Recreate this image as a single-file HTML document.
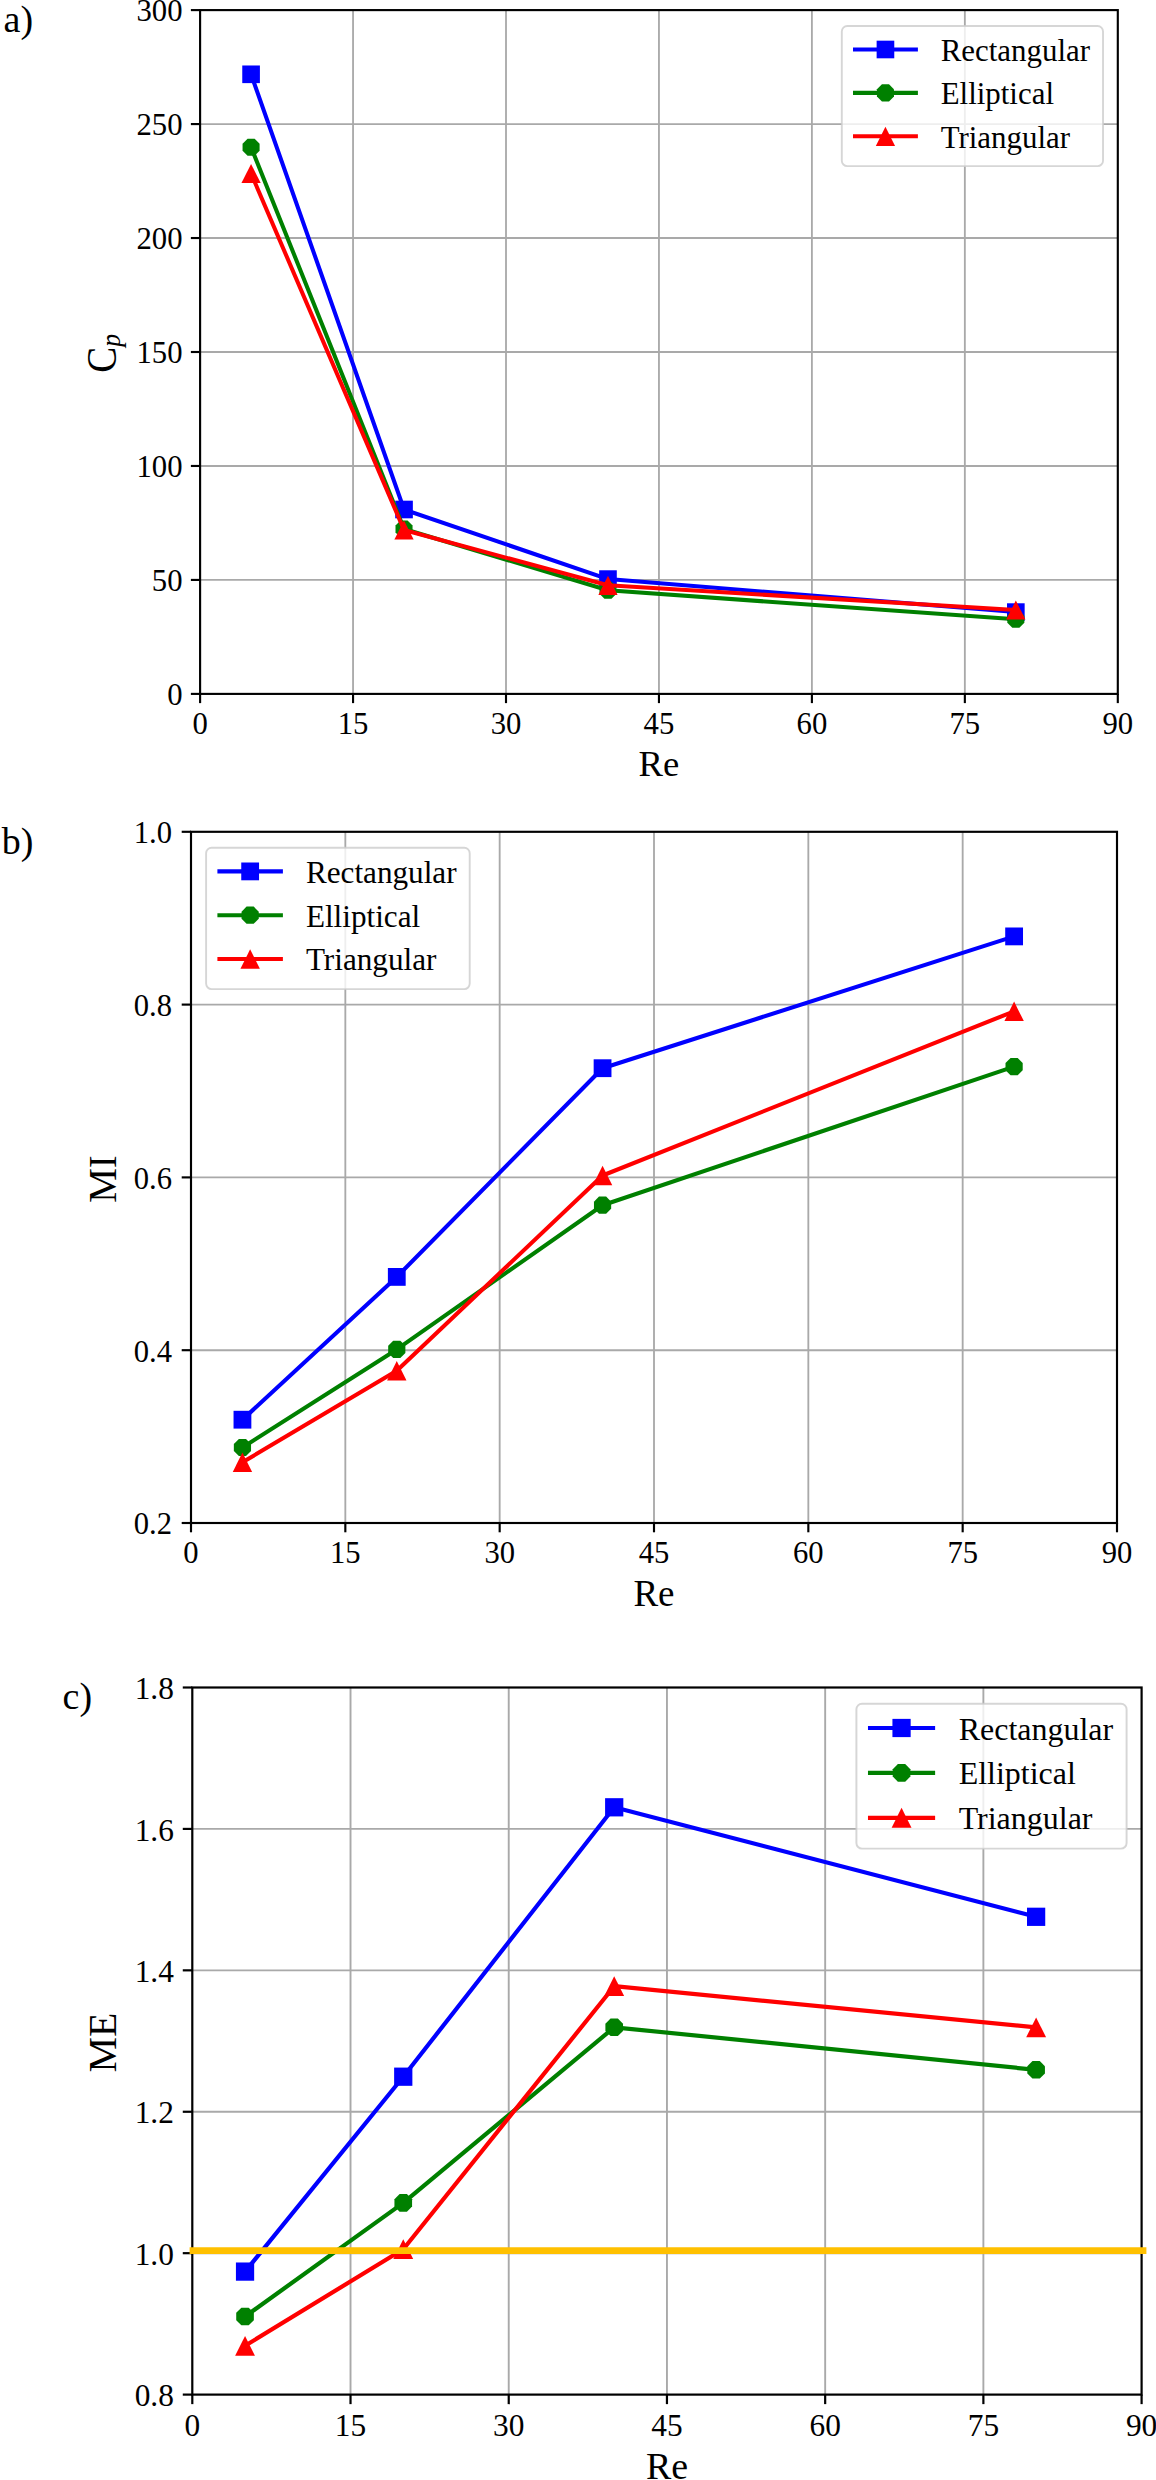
<!DOCTYPE html>
<html lang="en"><head><meta charset="utf-8"><title>Cp, MI and ME versus Re</title>
<style>html,body{margin:0;padding:0;background:#fff}body{width:1156px;height:2480px;overflow:hidden}svg{display:block}</style>
</head><body>
<svg width="1156" height="2480" viewBox="0 0 1156 2480">
<rect width="1156" height="2480" fill="#fff"/>
<g font-family="'Liberation Serif', 'Times New Roman', serif" fill="#000">
<line x1="353.05" y1="10.1" x2="353.05" y2="693.9" stroke="#a9a9a9" stroke-width="1.83"/>
<line x1="506" y1="10.1" x2="506" y2="693.9" stroke="#a9a9a9" stroke-width="1.83"/>
<line x1="658.95" y1="10.1" x2="658.95" y2="693.9" stroke="#a9a9a9" stroke-width="1.83"/>
<line x1="811.9" y1="10.1" x2="811.9" y2="693.9" stroke="#a9a9a9" stroke-width="1.83"/>
<line x1="964.85" y1="10.1" x2="964.85" y2="693.9" stroke="#a9a9a9" stroke-width="1.83"/>
<line x1="200.1" y1="579.93" x2="1117.8" y2="579.93" stroke="#a9a9a9" stroke-width="1.83"/>
<line x1="200.1" y1="465.97" x2="1117.8" y2="465.97" stroke="#a9a9a9" stroke-width="1.83"/>
<line x1="200.1" y1="352" x2="1117.8" y2="352" stroke="#a9a9a9" stroke-width="1.83"/>
<line x1="200.1" y1="238.03" x2="1117.8" y2="238.03" stroke="#a9a9a9" stroke-width="1.83"/>
<line x1="200.1" y1="124.07" x2="1117.8" y2="124.07" stroke="#a9a9a9" stroke-width="1.83"/>
<polyline points="251.08,74.3 404.03,509.5 607.97,579.1 1015.83,612.1" fill="none" stroke="#0000ff" stroke-width="4.06" stroke-linejoin="round"/>
<rect x="242.26" y="65.48" width="17.64" height="17.64" fill="#0000ff"/>
<rect x="395.21" y="500.68" width="17.64" height="17.64" fill="#0000ff"/>
<rect x="599.15" y="570.28" width="17.64" height="17.64" fill="#0000ff"/>
<rect x="1007.01" y="603.28" width="17.64" height="17.64" fill="#0000ff"/>
<polyline points="251.08,147.2 404.03,529 607.97,590.3 1015.83,619.3" fill="none" stroke="#008000" stroke-width="4.06" stroke-linejoin="round"/>
<polygon points="259.6,150.73 254.61,155.72 247.55,155.72 242.56,150.73 242.56,143.67 247.55,138.68 254.61,138.68 259.6,143.67" fill="#008000"/>
<polygon points="412.55,532.53 407.56,537.52 400.5,537.52 395.51,532.53 395.51,525.47 400.5,520.48 407.56,520.48 412.55,525.47" fill="#008000"/>
<polygon points="616.49,593.83 611.5,598.82 604.44,598.82 599.45,593.83 599.45,586.77 604.44,581.78 611.5,581.78 616.49,586.77" fill="#008000"/>
<polygon points="1024.35,622.83 1019.36,627.82 1012.3,627.82 1007.31,622.83 1007.31,615.77 1012.3,610.78 1019.36,610.78 1024.35,615.77" fill="#008000"/>
<polyline points="251.08,173.5 404.03,530 607.97,585.3 1015.83,610" fill="none" stroke="#ff0000" stroke-width="4.06" stroke-linejoin="round"/>
<polygon points="251.08,163.88 241.46,183.12 260.7,183.12" fill="#ff0000"/>
<polygon points="404.03,520.38 394.41,539.62 413.65,539.62" fill="#ff0000"/>
<polygon points="607.97,575.68 598.35,594.92 617.59,594.92" fill="#ff0000"/>
<polygon points="1015.83,600.38 1006.21,619.62 1025.45,619.62" fill="#ff0000"/>
<rect x="200.1" y="10.1" width="917.7" height="683.8" fill="none" stroke="#000" stroke-width="2.13"/>
<line x1="200.1" y1="693.9" x2="200.1" y2="703.12" stroke="#000" stroke-width="2.13"/>
<text transform="translate(200.1,733.84) scale(1,1.05)" font-size="30.72" text-anchor="middle">0</text>
<line x1="353.05" y1="693.9" x2="353.05" y2="703.12" stroke="#000" stroke-width="2.13"/>
<text transform="translate(353.05,733.84) scale(1,1.05)" font-size="30.72" text-anchor="middle">15</text>
<line x1="506" y1="693.9" x2="506" y2="703.12" stroke="#000" stroke-width="2.13"/>
<text transform="translate(506,733.84) scale(1,1.05)" font-size="30.72" text-anchor="middle">30</text>
<line x1="658.95" y1="693.9" x2="658.95" y2="703.12" stroke="#000" stroke-width="2.13"/>
<text transform="translate(658.95,733.84) scale(1,1.05)" font-size="30.72" text-anchor="middle">45</text>
<line x1="811.9" y1="693.9" x2="811.9" y2="703.12" stroke="#000" stroke-width="2.13"/>
<text transform="translate(811.9,733.84) scale(1,1.05)" font-size="30.72" text-anchor="middle">60</text>
<line x1="964.85" y1="693.9" x2="964.85" y2="703.12" stroke="#000" stroke-width="2.13"/>
<text transform="translate(964.85,733.84) scale(1,1.05)" font-size="30.72" text-anchor="middle">75</text>
<line x1="1117.8" y1="693.9" x2="1117.8" y2="703.12" stroke="#000" stroke-width="2.13"/>
<text transform="translate(1117.8,733.84) scale(1,1.05)" font-size="30.72" text-anchor="middle">90</text>
<line x1="190.88" y1="693.9" x2="200.1" y2="693.9" stroke="#000" stroke-width="2.13"/>
<text transform="translate(182.56,705.1) scale(1,1.05)" font-size="30.72" text-anchor="end">0</text>
<line x1="190.88" y1="579.93" x2="200.1" y2="579.93" stroke="#000" stroke-width="2.13"/>
<text transform="translate(182.56,591.13) scale(1,1.05)" font-size="30.72" text-anchor="end">50</text>
<line x1="190.88" y1="465.97" x2="200.1" y2="465.97" stroke="#000" stroke-width="2.13"/>
<text transform="translate(182.56,477.16) scale(1,1.05)" font-size="30.72" text-anchor="end">100</text>
<line x1="190.88" y1="352" x2="200.1" y2="352" stroke="#000" stroke-width="2.13"/>
<text transform="translate(182.56,363.2) scale(1,1.05)" font-size="30.72" text-anchor="end">150</text>
<line x1="190.88" y1="238.03" x2="200.1" y2="238.03" stroke="#000" stroke-width="2.13"/>
<text transform="translate(182.56,249.23) scale(1,1.05)" font-size="30.72" text-anchor="end">200</text>
<line x1="190.88" y1="124.07" x2="200.1" y2="124.07" stroke="#000" stroke-width="2.13"/>
<text transform="translate(182.56,135.26) scale(1,1.05)" font-size="30.72" text-anchor="end">250</text>
<line x1="190.88" y1="10.1" x2="200.1" y2="10.1" stroke="#000" stroke-width="2.13"/>
<text transform="translate(182.56,21.3) scale(1,1.05)" font-size="30.72" text-anchor="end">300</text>
<text x="658.95" y="775.76" font-size="36.67" text-anchor="middle">Re</text>
<text transform="translate(115.7,353.3) rotate(-90) scale(1,1.07)" font-size="38.95" text-anchor="middle">C<tspan font-style="italic" font-size="66%" dy="4.0">p</tspan></text>
<rect x="841.8" y="26" width="261.23" height="140.13" rx="5.45" ry="5.45" fill="#fff" fill-opacity="0.8" stroke="#cccccc" stroke-opacity="0.8" stroke-width="1.88"/>
<line x1="853" y1="49.49" x2="917.91" y2="49.49" stroke="#0000ff" stroke-width="4.06"/>
<rect x="876.63" y="40.67" width="17.64" height="17.64" fill="#0000ff"/>
<text x="940.7" y="60.69" font-size="30.92">Rectangular</text>
<line x1="853" y1="92.89" x2="917.91" y2="92.89" stroke="#008000" stroke-width="4.06"/>
<polygon points="893.97,96.42 888.98,101.41 881.92,101.41 876.93,96.42 876.93,89.36 881.92,84.37 888.98,84.37 893.97,89.36" fill="#008000"/>
<text x="940.7" y="104.09" font-size="30.92">Elliptical</text>
<line x1="853" y1="136.3" x2="917.91" y2="136.3" stroke="#ff0000" stroke-width="4.06"/>
<polygon points="885.45,126.68 875.83,145.92 895.07,145.92" fill="#ff0000"/>
<text x="940.7" y="147.5" font-size="30.92">Triangular</text>
</g>
<g font-family="'Liberation Serif', 'Times New Roman', serif" fill="#000">
<line x1="345.33" y1="831.8" x2="345.33" y2="1523" stroke="#a9a9a9" stroke-width="1.85"/>
<line x1="499.67" y1="831.8" x2="499.67" y2="1523" stroke="#a9a9a9" stroke-width="1.85"/>
<line x1="654" y1="831.8" x2="654" y2="1523" stroke="#a9a9a9" stroke-width="1.85"/>
<line x1="808.33" y1="831.8" x2="808.33" y2="1523" stroke="#a9a9a9" stroke-width="1.85"/>
<line x1="962.67" y1="831.8" x2="962.67" y2="1523" stroke="#a9a9a9" stroke-width="1.85"/>
<line x1="191" y1="1350.2" x2="1117" y2="1350.2" stroke="#a9a9a9" stroke-width="1.85"/>
<line x1="191" y1="1177.4" x2="1117" y2="1177.4" stroke="#a9a9a9" stroke-width="1.85"/>
<line x1="191" y1="1004.6" x2="1117" y2="1004.6" stroke="#a9a9a9" stroke-width="1.85"/>
<polyline points="242.44,1419.7 396.78,1276.9 602.56,1068.2 1014.11,936.4" fill="none" stroke="#0000ff" stroke-width="4.1" stroke-linejoin="round"/>
<rect x="233.54" y="1410.8" width="17.8" height="17.8" fill="#0000ff"/>
<rect x="387.88" y="1268" width="17.8" height="17.8" fill="#0000ff"/>
<rect x="593.66" y="1059.3" width="17.8" height="17.8" fill="#0000ff"/>
<rect x="1005.21" y="927.5" width="17.8" height="17.8" fill="#0000ff"/>
<polyline points="242.44,1447.5 396.78,1349.4 602.56,1205.2 1014.11,1066.6" fill="none" stroke="#008000" stroke-width="4.1" stroke-linejoin="round"/>
<polygon points="251.04,1451.06 246.01,1456.1 238.88,1456.1 233.84,1451.06 233.84,1443.94 238.88,1438.9 246.01,1438.9 251.04,1443.94" fill="#008000"/>
<polygon points="405.38,1352.96 400.34,1358 393.22,1358 388.18,1352.96 388.18,1345.84 393.22,1340.8 400.34,1340.8 405.38,1345.84" fill="#008000"/>
<polygon points="611.16,1208.76 606.12,1213.8 598.99,1213.8 593.96,1208.76 593.96,1201.64 598.99,1196.6 606.12,1196.6 611.16,1201.64" fill="#008000"/>
<polygon points="1022.71,1070.16 1017.67,1075.2 1010.55,1075.2 1005.51,1070.16 1005.51,1063.04 1010.55,1058 1017.67,1058 1022.71,1063.04" fill="#008000"/>
<polyline points="242.44,1462.3 396.78,1370.8 602.56,1175.5 1014.11,1011.3" fill="none" stroke="#ff0000" stroke-width="4.1" stroke-linejoin="round"/>
<polygon points="242.44,1452.6 232.74,1472 252.14,1472" fill="#ff0000"/>
<polygon points="396.78,1361.1 387.08,1380.5 406.48,1380.5" fill="#ff0000"/>
<polygon points="602.56,1165.8 592.86,1185.2 612.26,1185.2" fill="#ff0000"/>
<polygon points="1014.11,1001.6 1004.41,1021 1023.81,1021" fill="#ff0000"/>
<rect x="191" y="831.8" width="926" height="691.2" fill="none" stroke="#000" stroke-width="2.15"/>
<line x1="191" y1="1523" x2="191" y2="1532.3" stroke="#000" stroke-width="2.15"/>
<text transform="translate(191,1562.9) scale(1,1.03)" font-size="30.6" text-anchor="middle">0</text>
<line x1="345.33" y1="1523" x2="345.33" y2="1532.3" stroke="#000" stroke-width="2.15"/>
<text transform="translate(345.33,1562.9) scale(1,1.03)" font-size="30.6" text-anchor="middle">15</text>
<line x1="499.67" y1="1523" x2="499.67" y2="1532.3" stroke="#000" stroke-width="2.15"/>
<text transform="translate(499.67,1562.9) scale(1,1.03)" font-size="30.6" text-anchor="middle">30</text>
<line x1="654" y1="1523" x2="654" y2="1532.3" stroke="#000" stroke-width="2.15"/>
<text transform="translate(654,1562.9) scale(1,1.03)" font-size="30.6" text-anchor="middle">45</text>
<line x1="808.33" y1="1523" x2="808.33" y2="1532.3" stroke="#000" stroke-width="2.15"/>
<text transform="translate(808.33,1562.9) scale(1,1.03)" font-size="30.6" text-anchor="middle">60</text>
<line x1="962.67" y1="1523" x2="962.67" y2="1532.3" stroke="#000" stroke-width="2.15"/>
<text transform="translate(962.67,1562.9) scale(1,1.03)" font-size="30.6" text-anchor="middle">75</text>
<line x1="1117" y1="1523" x2="1117" y2="1532.3" stroke="#000" stroke-width="2.15"/>
<text transform="translate(1117,1562.9) scale(1,1.03)" font-size="30.6" text-anchor="middle">90</text>
<line x1="181.7" y1="1523" x2="191" y2="1523" stroke="#000" stroke-width="2.15"/>
<text transform="translate(172,1534.3) scale(1,1.03)" font-size="30.6" text-anchor="end">0.2</text>
<line x1="181.7" y1="1350.2" x2="191" y2="1350.2" stroke="#000" stroke-width="2.15"/>
<text transform="translate(172,1361.5) scale(1,1.03)" font-size="30.6" text-anchor="end">0.4</text>
<line x1="181.7" y1="1177.4" x2="191" y2="1177.4" stroke="#000" stroke-width="2.15"/>
<text transform="translate(172,1188.7) scale(1,1.03)" font-size="30.6" text-anchor="end">0.6</text>
<line x1="181.7" y1="1004.6" x2="191" y2="1004.6" stroke="#000" stroke-width="2.15"/>
<text transform="translate(172,1015.9) scale(1,1.03)" font-size="30.6" text-anchor="end">0.8</text>
<line x1="181.7" y1="831.8" x2="191" y2="831.8" stroke="#000" stroke-width="2.15"/>
<text transform="translate(172,843.1) scale(1,1.03)" font-size="30.6" text-anchor="end">1.0</text>
<text x="654" y="1605.6" font-size="37" text-anchor="middle">Re</text>
<text transform="translate(116.3,1179.1) rotate(-90) scale(1,1.03)" font-size="38.9" text-anchor="middle">MI</text>
<rect x="206.1" y="847.7" width="263.6" height="141.4" rx="5.5" ry="5.5" fill="#fff" fill-opacity="0.8" stroke="#cccccc" stroke-opacity="0.8" stroke-width="1.9"/>
<line x1="217.4" y1="871.4" x2="282.9" y2="871.4" stroke="#0000ff" stroke-width="4.1"/>
<rect x="241.25" y="862.5" width="17.8" height="17.8" fill="#0000ff"/>
<text x="305.9" y="882.7" font-size="31.2">Rectangular</text>
<line x1="217.4" y1="915.2" x2="282.9" y2="915.2" stroke="#008000" stroke-width="4.1"/>
<polygon points="258.75,918.76 253.71,923.8 246.59,923.8 241.55,918.76 241.55,911.64 246.59,906.6 253.71,906.6 258.75,911.64" fill="#008000"/>
<text x="305.9" y="926.5" font-size="31.2">Elliptical</text>
<line x1="217.4" y1="959" x2="282.9" y2="959" stroke="#ff0000" stroke-width="4.1"/>
<polygon points="250.15,949.3 240.45,968.7 259.85,968.7" fill="#ff0000"/>
<text x="305.9" y="970.3" font-size="31.2">Triangular</text>
</g>
<g font-family="'Liberation Serif', 'Times New Roman', serif" fill="#000">
<line x1="350.52" y1="1687.5" x2="350.52" y2="2394.6" stroke="#a9a9a9" stroke-width="1.9"/>
<line x1="508.73" y1="1687.5" x2="508.73" y2="2394.6" stroke="#a9a9a9" stroke-width="1.9"/>
<line x1="666.95" y1="1687.5" x2="666.95" y2="2394.6" stroke="#a9a9a9" stroke-width="1.9"/>
<line x1="825.17" y1="1687.5" x2="825.17" y2="2394.6" stroke="#a9a9a9" stroke-width="1.9"/>
<line x1="983.38" y1="1687.5" x2="983.38" y2="2394.6" stroke="#a9a9a9" stroke-width="1.9"/>
<line x1="192.3" y1="2253.18" x2="1141.6" y2="2253.18" stroke="#a9a9a9" stroke-width="1.9"/>
<line x1="192.3" y1="2111.76" x2="1141.6" y2="2111.76" stroke="#a9a9a9" stroke-width="1.9"/>
<line x1="192.3" y1="1970.34" x2="1141.6" y2="1970.34" stroke="#a9a9a9" stroke-width="1.9"/>
<line x1="192.3" y1="1828.92" x2="1141.6" y2="1828.92" stroke="#a9a9a9" stroke-width="1.9"/>
<polyline points="245.04,2271.6 403.26,2076.7 614.21,1807.3 1036.12,1916.8" fill="none" stroke="#0000ff" stroke-width="4.2" stroke-linejoin="round"/>
<rect x="235.92" y="2262.48" width="18.24" height="18.24" fill="#0000ff"/>
<rect x="394.13" y="2067.58" width="18.24" height="18.24" fill="#0000ff"/>
<rect x="605.09" y="1798.18" width="18.24" height="18.24" fill="#0000ff"/>
<rect x="1027" y="1907.68" width="18.24" height="18.24" fill="#0000ff"/>
<polyline points="245.04,2316.5 403.26,2202.9 614.21,2027.3 1036.12,2069.8" fill="none" stroke="#008000" stroke-width="4.2" stroke-linejoin="round"/>
<polygon points="253.86,2320.15 248.69,2325.32 241.38,2325.32 236.22,2320.15 236.22,2312.85 241.38,2307.68 248.69,2307.68 253.86,2312.85" fill="#008000"/>
<polygon points="412.08,2206.55 406.91,2211.72 399.6,2211.72 394.43,2206.55 394.43,2199.25 399.6,2194.08 406.91,2194.08 412.08,2199.25" fill="#008000"/>
<polygon points="623.03,2030.95 617.87,2036.12 610.56,2036.12 605.39,2030.95 605.39,2023.65 610.56,2018.48 617.87,2018.48 623.03,2023.65" fill="#008000"/>
<polygon points="1044.94,2073.45 1039.78,2078.62 1032.47,2078.62 1027.3,2073.45 1027.3,2066.15 1032.47,2060.98 1039.78,2060.98 1044.94,2066.15" fill="#008000"/>
<polyline points="245.04,2345.8 403.26,2249.2 614.21,1986.2 1036.12,2027.3" fill="none" stroke="#ff0000" stroke-width="4.2" stroke-linejoin="round"/>
<polygon points="245.04,2335.88 235.12,2355.72 254.96,2355.72" fill="#ff0000"/>
<polygon points="403.26,2239.28 393.33,2259.12 413.18,2259.12" fill="#ff0000"/>
<polygon points="614.21,1976.28 604.29,1996.12 624.13,1996.12" fill="#ff0000"/>
<polygon points="1036.12,2017.38 1026.2,2037.22 1046.04,2037.22" fill="#ff0000"/>
<rect x="192.3" y="1687.5" width="949.3" height="707.1" fill="none" stroke="#000" stroke-width="2.2"/>
<line x1="192.3" y1="2394.6" x2="192.3" y2="2404.13" stroke="#000" stroke-width="2.2"/>
<text transform="translate(192.3,2435.5) scale(1,1.04)" font-size="31.36" text-anchor="middle">0</text>
<line x1="350.52" y1="2394.6" x2="350.52" y2="2404.13" stroke="#000" stroke-width="2.2"/>
<text transform="translate(350.52,2435.5) scale(1,1.04)" font-size="31.36" text-anchor="middle">15</text>
<line x1="508.73" y1="2394.6" x2="508.73" y2="2404.13" stroke="#000" stroke-width="2.2"/>
<text transform="translate(508.73,2435.5) scale(1,1.04)" font-size="31.36" text-anchor="middle">30</text>
<line x1="666.95" y1="2394.6" x2="666.95" y2="2404.13" stroke="#000" stroke-width="2.2"/>
<text transform="translate(666.95,2435.5) scale(1,1.04)" font-size="31.36" text-anchor="middle">45</text>
<line x1="825.17" y1="2394.6" x2="825.17" y2="2404.13" stroke="#000" stroke-width="2.2"/>
<text transform="translate(825.17,2435.5) scale(1,1.04)" font-size="31.36" text-anchor="middle">60</text>
<line x1="983.38" y1="2394.6" x2="983.38" y2="2404.13" stroke="#000" stroke-width="2.2"/>
<text transform="translate(983.38,2435.5) scale(1,1.04)" font-size="31.36" text-anchor="middle">75</text>
<line x1="1141.6" y1="2394.6" x2="1141.6" y2="2404.13" stroke="#000" stroke-width="2.2"/>
<text transform="translate(1141.6,2435.5) scale(1,1.04)" font-size="31.36" text-anchor="middle">90</text>
<line x1="182.77" y1="2394.6" x2="192.3" y2="2394.6" stroke="#000" stroke-width="2.2"/>
<text transform="translate(173.85,2406.18) scale(1,1.04)" font-size="31.36" text-anchor="end">0.8</text>
<line x1="182.77" y1="2253.18" x2="192.3" y2="2253.18" stroke="#000" stroke-width="2.2"/>
<text transform="translate(173.85,2264.76) scale(1,1.04)" font-size="31.36" text-anchor="end">1.0</text>
<line x1="182.77" y1="2111.76" x2="192.3" y2="2111.76" stroke="#000" stroke-width="2.2"/>
<text transform="translate(173.85,2123.34) scale(1,1.04)" font-size="31.36" text-anchor="end">1.2</text>
<line x1="182.77" y1="1970.34" x2="192.3" y2="1970.34" stroke="#000" stroke-width="2.2"/>
<text transform="translate(173.85,1981.92) scale(1,1.04)" font-size="31.36" text-anchor="end">1.4</text>
<line x1="182.77" y1="1828.92" x2="192.3" y2="1828.92" stroke="#000" stroke-width="2.2"/>
<text transform="translate(173.85,1840.5) scale(1,1.04)" font-size="31.36" text-anchor="end">1.6</text>
<line x1="182.77" y1="1687.5" x2="192.3" y2="1687.5" stroke="#000" stroke-width="2.2"/>
<text transform="translate(173.85,1699.08) scale(1,1.04)" font-size="31.36" text-anchor="end">1.8</text>
<text x="666.95" y="2479.26" font-size="37.92" text-anchor="middle">Re</text>
<text transform="translate(116.1,2042.65) rotate(-90) scale(1,1.03)" font-size="39.87" text-anchor="middle">ME</text>
<rect x="856.4" y="1703.7" width="270.19" height="144.94" rx="5.64" ry="5.64" fill="#fff" fill-opacity="0.8" stroke="#cccccc" stroke-opacity="0.8" stroke-width="1.95"/>
<line x1="867.98" y1="1727.99" x2="935.12" y2="1727.99" stroke="#0000ff" stroke-width="4.2"/>
<rect x="892.43" y="1718.87" width="18.24" height="18.24" fill="#0000ff"/>
<text x="958.69" y="1739.58" font-size="31.98">Rectangular</text>
<line x1="867.98" y1="1772.89" x2="935.12" y2="1772.89" stroke="#008000" stroke-width="4.2"/>
<polygon points="910.37,1776.54 905.21,1781.71 897.9,1781.71 892.73,1776.54 892.73,1769.23 897.9,1764.07 905.21,1764.07 910.37,1769.23" fill="#008000"/>
<text x="958.69" y="1784.47" font-size="31.98">Elliptical</text>
<line x1="867.98" y1="1817.78" x2="935.12" y2="1817.78" stroke="#ff0000" stroke-width="4.2"/>
<polygon points="901.55,1807.86 891.63,1827.7 911.47,1827.7" fill="#ff0000"/>
<text x="958.69" y="1829.37" font-size="31.98">Triangular</text>
</g>
<line x1="189.6" y1="2250.6" x2="1146.4" y2="2250.6" stroke="#ffc000" stroke-width="6.6"/>
<g font-family="'Liberation Serif', 'Times New Roman', serif" fill="#000" font-size="38">
<text x="3.6" y="31.6">a)</text>
<text x="1.8" y="853.6">b)</text>
<text x="62.6" y="1709.3">c)</text>
</g>
</svg></body></html>
